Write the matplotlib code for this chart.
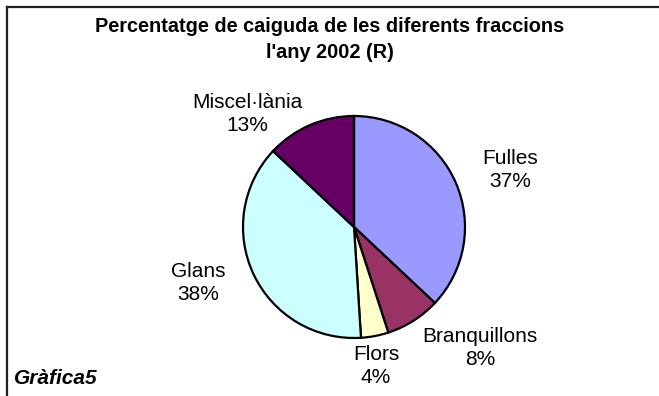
import matplotlib
matplotlib.use("Agg")
import matplotlib.pyplot as plt
from matplotlib.lines import Line2D

# Leaf-fall fractions, year 2002 (R), in percent
fractions = ["Fulles", "Branquillons", "Flors", "Glans", "Miscel·lània"]
percent = [37, 8, 4, 38, 13]
colors = ["#9999FF", "#993366", "#FFFFCC", "#CCFFFF", "#660066"]

# label centres, in units of pie radius from the pie centre
label_xy = [(1.405, 0.514), (1.135, -1.09), (0.198, -1.255), (-1.405, -0.505), (-0.964, 1.018)]

plt.rcParams["font.family"] = ["Liberation Sans", "DejaVu Sans"]

W, H = 659, 396
fig = plt.figure(figsize=(W / 100, H / 100), dpi=100)
ax = fig.add_axes([0, 0, 1, 1])

cx, cy, r = 354, H - 227, 111
ax.pie(percent, colors=colors, startangle=90, counterclock=False,
       center=(cx, cy), radius=r, frame=True,
       wedgeprops=dict(edgecolor="black", linewidth=1.6))
ax.set_xlim(0, W)
ax.set_ylim(0, H)
ax.axis("off")

for name, p, (lx, ly) in zip(fractions, percent, label_xy):
    ax.text(cx + lx * r, cy + ly * r, f"{name}\n{p}%", ha="center", va="center",
            fontsize=15, linespacing=1.25)

fig.text(0.5, 1 - 27 / H, "Percentatge de caiguda de les diferents fraccions",
         ha="center", va="center", fontsize=14.3, fontweight="bold")
fig.text(0.5, 1 - 53 / H, "l'any 2002 (R)",
         ha="center", va="center", fontsize=14.3, fontweight="bold")
fig.text(14 / W, 1 - 378 / H, "Gràfica5", ha="left", va="center",
         fontsize=15, fontweight="bold", fontstyle="italic")

# chart frame: only the top and left edges fall inside the image
fig.add_artist(Line2D([7 / W, 1.0], [1 - 7 / H, 1 - 7 / H], color="#222222", lw=1.6,
                      transform=fig.transFigure))
fig.add_artist(Line2D([7 / W, 7 / W], [0.0, 1 - 7 / H], color="#222222", lw=1.6,
                      transform=fig.transFigure))

fig.savefig("out.png", dpi=100, facecolor="white")
